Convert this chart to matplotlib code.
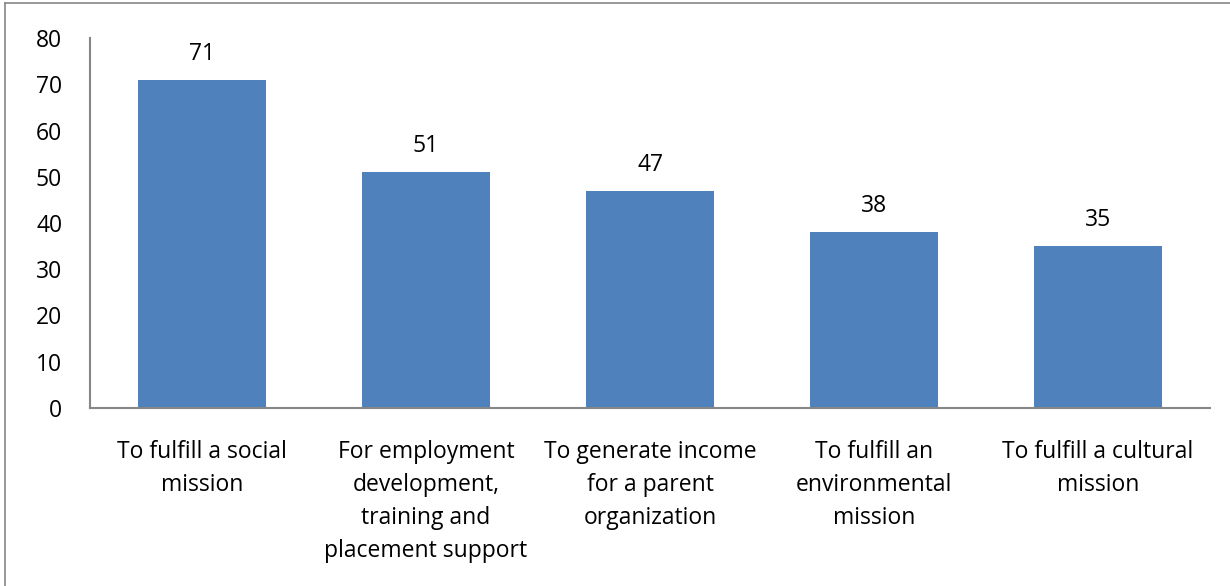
import matplotlib
matplotlib.use("Agg")
import matplotlib.pyplot as plt
import numpy as np

categories = [
    "To fulfill a social\nmission",
    "For employment\ndevelopment,\ntraining and\nplacement support",
    "To generate income\nfor a parent\norganization",
    "To fulfill an\nenvironmental\nmission",
    "To fulfill a cultural\nmission",
]
values = [71, 51, 47, 38, 35]
yticks = [0, 10, 20, 30, 40, 50, 60, 70, 80]

plt.rcParams["font.family"] = ["Open Sans", "DejaVu Sans"]
fs = 16.5

fig = plt.figure(figsize=(12.3, 5.86), dpi=100)
ax = fig.add_axes([90 / 1230, 1 - 408 / 586, 1120 / 1230, 370 / 586])

x = np.arange(len(values))
bars = ax.bar(x, values, width=0.571, color="#4f81bd")

for xi, v in zip(x, values):
    ax.text(xi, v + 3.0, str(v), ha="center", va="bottom", fontsize=fs, color="black")

ax.set_xlim(-0.5, len(values) - 0.5)
ax.set_ylim(0, 80)
ax.set_yticks(yticks)
ax.set_xticks(x)
ax.set_xticklabels(categories, fontsize=fs, linespacing=1.5, va="top")
ax.tick_params(axis="both", length=0, labelsize=fs)
ax.tick_params(axis="x", pad=23)
ax.tick_params(axis="y", pad=20)

for side in ["top", "right"]:
    ax.spines[side].set_visible(False)
for side in ["left", "bottom"]:
    ax.spines[side].set_color("#868686")
    ax.spines[side].set_linewidth(1.5)

# outer chart-area border (top and left edges visible)
fig.add_artist(plt.Line2D([5 / 1230, 5 / 1230], [0, 1 - 3 / 586], color="#868686", lw=1.2))
fig.add_artist(plt.Line2D([5 / 1230, 1], [1 - 3 / 586, 1 - 3 / 586], color="#868686", lw=1.2))

fig.savefig("out.png", dpi=100)
